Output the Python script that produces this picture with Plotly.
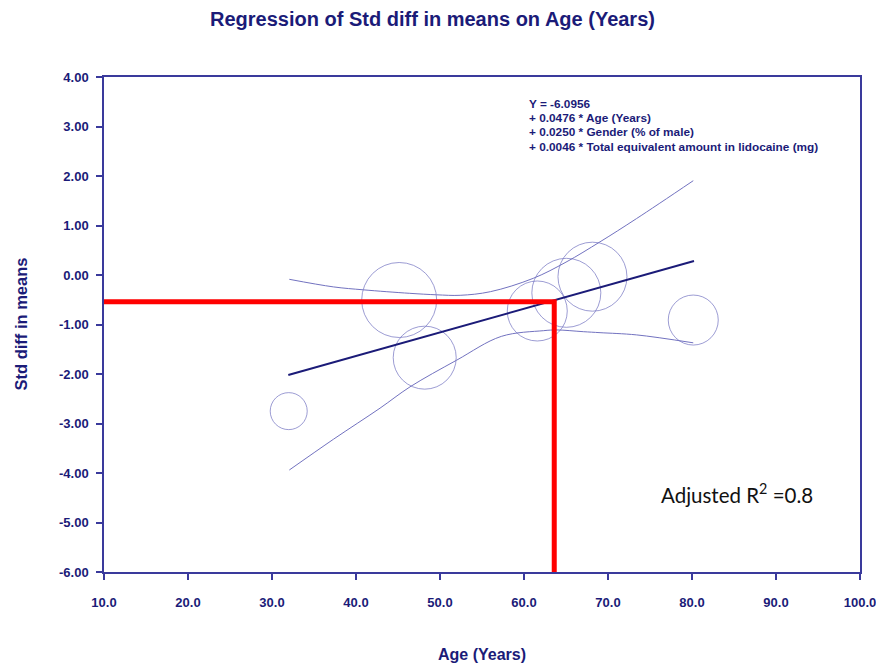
import plotly.graph_objects as go

# ---- data ----
study_age = [31.99, 45.14, 48.18, 61.58, 65.04, 68.15, 80.15]
study_smd = [-2.75, -0.505, -1.67, -0.727, -0.36, -0.034, -0.91]

reg_age = [31.94, 80.24]
reg_smd = [-2.02, 0.283]

upper_age = [32.06, 37.3, 40.9, 46.4, 49.6, 52.4, 56.0, 61.1, 65.0, 69.05, 73.4, 80.15]
upper_smd = [-0.087, -0.24, -0.30, -0.37, -0.40, -0.41, -0.337, -0.067, 0.26, 0.67, 1.14, 1.905]

lower_age = [32.06, 37.3, 42.86, 46.43, 51.99, 57.3, 62.3, 63.9, 67.06, 69.05, 73.4, 80.15]
lower_smd = [-3.94, -3.32, -2.69, -2.26, -1.72, -1.24, -1.125, -1.11, -1.145, -1.165, -1.21, -1.37]

cross_age = 63.6
cross_smd = -0.54

equation_lines = [
    "Y = -6.0956",
    "+ 0.0476 * Age (Years)",
    "+ 0.0250 * Gender (% of male)",
    "+ 0.0046 * Total equivalent amount in lidocaine (mg)",
]
r2_text = "Adjusted R<sup>2</sup> =0.8"

title_text = "Regression of Std diff in means on Age (Years)"
x_title = "Age (Years)"
y_title = "Std diff in means"

x_tickvals = [10, 20, 30, 40, 50, 60, 70, 80, 90, 100]
x_ticktext = ["10.0", "20.0", "30.0", "40.0", "50.0", "60.0", "70.0", "80.0", "90.0", "100.0"]
y_tickvals = [4, 3, 2, 1, 0, -1, -2, -3, -4, -5, -6]
y_ticktext = ["4.00", "3.00", "2.00", "1.00", "0.00", "-1.00", "-2.00", "-3.00", "-4.00", "-5.00", "-6.00"]

x_range = [10, 100]
y_range = [-6, 4]

# ---- styles ----
marker_px = [37, 75, 63, 60, 69, 69, 50]
NAVY = "#1b1b78"
AXIS = "#3a3a9c"
THIN = "#7272c0"
FONT = "Liberation Sans Narrow, Arial Narrow, Liberation Sans, Arial, sans-serif"
FONT2 = "Liberation Sans, Arial, sans-serif"

fig = go.Figure()

fig.add_trace(go.Scatter(x=upper_age, y=upper_smd, mode="lines",
                         line=dict(color=THIN, width=1, shape="spline", smoothing=1.0),
                         hoverinfo="skip", showlegend=False))
fig.add_trace(go.Scatter(x=lower_age, y=lower_smd, mode="lines",
                         line=dict(color=THIN, width=1, shape="spline", smoothing=1.0),
                         hoverinfo="skip", showlegend=False))
fig.add_trace(go.Scatter(x=study_age, y=study_smd, mode="markers",
                         marker=dict(symbol="circle-open", size=marker_px, color=THIN,
                                     line=dict(width=1, color=THIN)),
                         showlegend=False))
fig.add_trace(go.Scatter(x=reg_age, y=reg_smd, mode="lines",
                         line=dict(color=NAVY, width=2), showlegend=False))
fig.add_trace(go.Scatter(x=[x_range[0], cross_age, cross_age],
                         y=[cross_smd, cross_smd, y_range[0]], mode="lines",
                         line=dict(color="#ff0000", width=5), showlegend=False))

# equation text
for i, t in enumerate(equation_lines):
    fig.add_annotation(x=60.4, y=3.46, xref="x", yref="y", text=t, showarrow=False,
                       xanchor="left", yanchor="middle", yshift=-14.3 * i,
                       font=dict(family=FONT2, size=11.8, color=NAVY, weight="bold"))

fig.add_annotation(x=85.3, y=-4.42, xref="x", yref="y", text=r2_text, showarrow=False,
                   xanchor="center", yanchor="middle",
                   font=dict(family="Lato, Noto Sans, sans-serif", size=20.5, color="#111111"))

# axis titles
fig.add_annotation(x=0.5, y=0, xref="paper", yref="paper", text=x_title, showarrow=False,
                   xanchor="center", yanchor="middle", yshift=-82,
                   font=dict(family=FONT, size=16, color=NAVY, weight="bold"))
fig.add_annotation(x=0, y=0.5, xref="paper", yref="paper", text=y_title, showarrow=False,
                   xanchor="center", yanchor="middle", xshift=-84, textangle=-90,
                   font=dict(family=FONT, size=16.5, color=NAVY, weight="bold"))

fig.update_layout(
    width=884, height=665,
    margin=dict(l=96, r=32, t=69, b=101),
    paper_bgcolor="white", plot_bgcolor="white",
    title=dict(text=title_text, x=(432.5 - 8) / 884, xanchor="center", y=1 - 11 / 665,
               yanchor="middle", xref="container", yref="container",
               font=dict(family=FONT, size=20, color=NAVY, weight="bold")),
    showlegend=False,
)
fig.update_xaxes(range=x_range, tickvals=x_tickvals, ticktext=x_ticktext,
                 showgrid=False, zeroline=False, showline=True, linecolor=AXIS, linewidth=1.5,
                 mirror=True, ticks="outside", ticklen=6, tickcolor=AXIS, tickwidth=1.5,
                 ticklabelstandoff=12,
                 tickfont=dict(family=FONT, size=13, color=NAVY, weight="bold"))
fig.update_yaxes(range=y_range, tickvals=y_tickvals, ticktext=y_ticktext,
                 showgrid=False, zeroline=False, showline=True, linecolor=AXIS, linewidth=1.5,
                 mirror=True, ticks="outside", ticklen=6, tickcolor=AXIS, tickwidth=1.5,
                 ticklabelstandoff=5,
                 tickfont=dict(family=FONT, size=13, color=NAVY, weight="bold"))

fig.write_html("out.html")
